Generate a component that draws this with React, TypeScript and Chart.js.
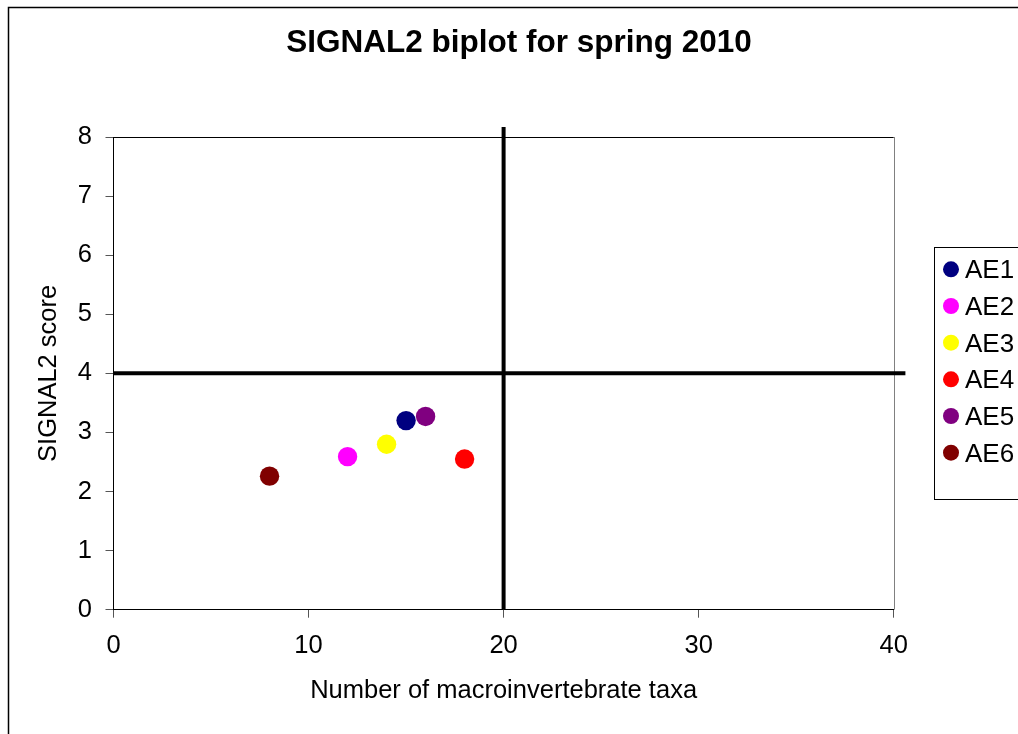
import React, { useEffect, useRef } from "react";
import { Chart, registerables } from "chart.js";

Chart.register(...registerables);

// Sites and their (taxa count, SIGNAL2 score) readings
const siteNames = ["AE1", "AE2", "AE3", "AE4", "AE5", "AE6"];
const taxaCounts = [15, 12, 14, 18, 16, 8];
const signalScores = [3.2, 2.59, 2.8, 2.55, 3.27, 2.26];
const siteColors = ["#000080", "#FF00FF", "#FFFF00", "#FF0000", "#800080", "#800000"];

// Quadrant divider lines (taxa = 20, score = 4)
const hLineX = [0, 40.6];
const hLineY = [4, 4];
const vLineX = [20, 20];
const vLineY = [0, 8.17];

const xTicks = [0, 10, 20, 30, 40];
const yTicks = [0, 1, 2, 3, 4, 5, 6, 7, 8];

const FONT = '"Liberation Sans", Arial, Helvetica, sans-serif';
const titleText = "SIGNAL2 biplot for spring 2010";
const xTitle = "Number of macroinvertebrate taxa";
const yTitle = "SIGNAL2 score";

const decorPlugin = {
  id: "decor",
  beforeDatasetsDraw(chart: any) {
    const { ctx, chartArea } = chart;
    ctx.save();
    // top edge of the plot area
    ctx.strokeStyle = "#000000";
    ctx.lineWidth = 1;
    ctx.beginPath();
    ctx.moveTo(chartArea.left, Math.round(chartArea.top) + 0.5);
    ctx.lineTo(chartArea.right, Math.round(chartArea.top) + 0.5);
    ctx.stroke();
    // right edge of the plot area
    ctx.strokeStyle = "#808080";
    ctx.beginPath();
    ctx.moveTo(Math.round(chartArea.right) + 0.5, chartArea.top);
    ctx.lineTo(Math.round(chartArea.right) + 0.5, chartArea.bottom);
    ctx.stroke();
    ctx.restore();
  },
  afterDraw(chart: any) {
    const { ctx } = chart;
    ctx.save();
    // outer chart frame
    ctx.strokeStyle = "#000000";
    ctx.lineWidth = 1.5;
    ctx.beginPath();
    ctx.moveTo(8.5, 734);
    ctx.lineTo(8.5, 7.5);
    ctx.lineTo(1018, 7.5);
    ctx.stroke();

    // title
    ctx.fillStyle = "#000000";
    ctx.font = `bold 31.5px ${FONT}`;
    ctx.textAlign = "center";
    ctx.textBaseline = "alphabetic";
    ctx.fillText(titleText, 519, 52.3);

    // legend
    const boxTop = 247.5;
    const boxBottom = 499.5;
    ctx.fillStyle = "#FFFFFF";
    ctx.fillRect(934, boxTop, 100, boxBottom - boxTop);
    ctx.strokeStyle = "#000000";
    ctx.lineWidth = 1;
    ctx.strokeRect(934.5, boxTop, 100, boxBottom - boxTop);
    ctx.font = `26px ${FONT}`;
    ctx.textAlign = "left";
    siteNames.forEach((name, i) => {
      const cy = 269.3 + i * 36.67;
      ctx.fillStyle = siteColors[i];
      ctx.beginPath();
      ctx.arc(951, cy, 8, 0, Math.PI * 2);
      ctx.fill();
      ctx.fillStyle = "#000000";
      ctx.fillText(name, 965, cy + 8.9);
    });
    ctx.restore();
  },
};

export default function App() {
  const canvasRef = useRef<HTMLCanvasElement | null>(null);

  useEffect(() => {
    if (!canvasRef.current) return;
    Chart.defaults.font.family = FONT;
    const siteSets = siteNames.map((name, i) => ({
      label: name,
      data: [{ x: taxaCounts[i], y: signalScores[i] }],
      backgroundColor: siteColors[i],
      borderWidth: 0,
      pointRadius: 9.7,
      pointHoverRadius: 9.7,
      showLine: false,
    }));
    const chart = new Chart(canvasRef.current, {
      type: "scatter",
      data: {
        datasets: [
          {
            label: "score 4",
            data: hLineX.map((x, i) => ({ x, y: hLineY[i] })),
            showLine: true,
            borderColor: "#000000",
            borderWidth: 4,
            pointRadius: 0,
            clip: false,
          } as any,
          {
            label: "taxa 20",
            data: vLineX.map((x, i) => ({ x, y: vLineY[i] })),
            showLine: true,
            borderColor: "#000000",
            borderWidth: 4,
            pointRadius: 0,
            clip: false,
          },
          ...siteSets,
        ],
      },
      options: {
        animation: false,
        responsive: false,
        events: [],
        layout: { padding: { left: 13.5, right: 124.3, top: 137, bottom: 24.3 } },
        plugins: {
          legend: { display: false },
          title: { display: false },
          tooltip: { enabled: false },
        },
        scales: {
          x: {
            type: "linear",
            min: 0,
            max: 40,
            afterBuildTicks: (s: any) => {
              s.ticks = xTicks.map((v) => ({ value: v }));
            },
            afterFit: (s: any) => {
              s.height = 100;
            },
            ticks: { color: "#000000", font: { size: 25.5 }, padding: 13 },
            grid: { drawOnChartArea: false, drawTicks: true, tickLength: 8, color: "#555555" },
            border: { color: "#000000", width: 1 },
            title: {
              display: true,
              text: xTitle,
              color: "#000000",
              font: { size: 25.5 },
              padding: { top: 0, bottom: 3 },
            },
          },
          y: {
            type: "linear",
            min: 0,
            max: 8,
            afterBuildTicks: (s: any) => {
              s.ticks = yTicks.map((v) => ({ value: v }));
            },
            afterFit: (s: any) => {
              s.width = 100;
            },
            ticks: { color: "#000000", font: { size: 25.5 }, padding: 13.5 },
            grid: { drawOnChartArea: false, drawTicks: true, tickLength: 8, color: "#555555" },
            border: { color: "#000000", width: 1 },
            title: {
              display: true,
              text: yTitle,
              color: "#000000",
              font: { size: 25.5 },
              padding: { top: 20, bottom: 0 },
            },
          },
        },
      },
      plugins: [decorPlugin],
    });
    return () => chart.destroy();
  }, []);

  return (
    <div style={{ position: "absolute", left: 0, top: 0, width: 1018, height: 734, background: "#FFFFFF" }}>
      <canvas ref={canvasRef} width={1018} height={734} style={{ display: "block" }} />
    </div>
  );
}
